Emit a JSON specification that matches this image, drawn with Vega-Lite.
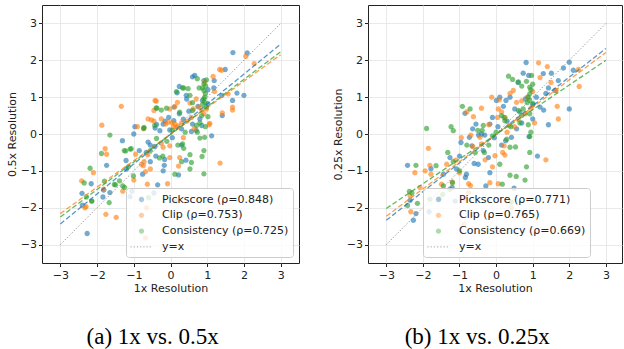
{
"$schema":"https://vega.github.io/schema/vega-lite/v6.json",
"background":"white",
"padding":{"left":5,"top":4,"right":0,"bottom":0},
"spacing":31,
"config":{
"font":"DejaVu Sans",
"view":{"stroke":"#222","strokeWidth":1},
"axis":{"labelFont":"DejaVu Sans","labelFontSize":11,"labelColor":"#222","titleFont":"DejaVu Sans","titleFontSize":11,"titleFontWeight":"normal","titleColor":"#222","tickColor":"#222","tickSize":3.5,"tickWidth":1,"domain":false,"grid":true,"gridColor":"#e3e3e3","gridWidth":0.8},
"axisX":{"labelPadding":3,"titlePadding":1.5},
"axisY":{"labelPadding":2,"titlePadding":3},
"legend":{"labelFont":"DejaVu Sans","labelFontSize":11,"labelColor":"#222","symbolSize":169,"symbolOffset":4,"symbolStrokeWidth":1,"symbolDash":[1.2,2],"labelOffset":13.5,"padding":4.5,"rowPadding":3.8,"fillColor":"rgba(255,255,255,0.8)","strokeColor":"#cccccc","cornerRadius":3,"title":null}
},
"datasets":{
"diag":[{"x":-3,"y":-3},{"x":3,"y":3}],
"f1":[{"m":"Pickscore","x":-3,"y":-2.44},{"m":"Pickscore","x":3,"y":2.44},{"m":"Clip","x":-3,"y":-2.16},{"m":"Clip","x":3,"y":2.15},{"m":"Consistency","x":-3,"y":-2.25},{"m":"Consistency","x":3,"y":2.23}],
"f2":[{"m":"Pickscore","x":-3,"y":-2.34},{"m":"Pickscore","x":3,"y":2.32},{"m":"Clip","x":-3,"y":-2.23},{"m":"Clip","x":3,"y":2.21},{"m":"Consistency","x":-3,"y":-2.02},{"m":"Consistency","x":3,"y":2.0}],
"p1":[
{"m":"Pickscore","x":1.70,"y":2.21},{"m":"Pickscore","x":2.09,"y":2.20},{"m":"Pickscore","x":1.49,"y":1.75},{"m":"Pickscore","x":1.19,"y":1.45},{"m":"Pickscore","x":0.66,"y":1.59},{"m":"Pickscore","x":0.60,"y":1.55},{"m":"Pickscore","x":0.24,"y":1.29},{"m":"Pickscore","x":1.02,"y":1.20},{"m":"Pickscore","x":1.81,"y":1.11},{"m":"Pickscore","x":2.00,"y":1.05},{"m":"Pickscore","x":1.69,"y":0.91},{"m":"Pickscore","x":1.41,"y":0.50},{"m":"Pickscore","x":1.02,"y":0.82},{"m":"Pickscore","x":0.44,"y":0.95},{"m":"Pickscore","x":0.10,"y":0.73},{"m":"Pickscore","x":0.80,"y":0.41},{"m":"Pickscore","x":0.85,"y":0.23},{"m":"Pickscore","x":0.60,"y":0.27},{"m":"Pickscore","x":0.30,"y":0.14},{"m":"Pickscore","x":0.09,"y":0.36},{"m":"Pickscore","x":-0.02,"y":0.11},{"m":"Pickscore","x":-0.20,"y":0.27},{"m":"Pickscore","x":-0.29,"y":0.09},{"m":"Pickscore","x":-0.42,"y":0.16},{"m":"Pickscore","x":-0.97,"y":0.20},{"m":"Pickscore","x":-1.00,"y":0.00},{"m":"Pickscore","x":-0.61,"y":-0.22},{"m":"Pickscore","x":-0.43,"y":-0.34},{"m":"Pickscore","x":-0.40,"y":-0.60},{"m":"Pickscore","x":-0.16,"y":-0.69},{"m":"Pickscore","x":-0.17,"y":-0.85},{"m":"Pickscore","x":-0.20,"y":-1.00},{"m":"Pickscore","x":0.22,"y":-1.11},{"m":"Pickscore","x":-0.35,"y":-1.38},{"m":"Pickscore","x":-0.76,"y":-1.09},{"m":"Pickscore","x":-1.31,"y":-0.18},{"m":"Pickscore","x":-1.74,"y":-0.85},{"m":"Pickscore","x":-1.20,"y":-0.95},{"m":"Pickscore","x":-1.21,"y":-0.72},{"m":"Pickscore","x":-2.16,"y":-1.35},{"m":"Pickscore","x":-2.41,"y":-1.61},{"m":"Pickscore","x":-2.27,"y":-2.70},{"m":"Pickscore","x":-1.84,"y":-1.71},{"m":"Pickscore","x":-2.40,"y":-1.93},{"m":"Pickscore","x":-1.65,"y":-1.59},{"m":"Pickscore","x":0.42,"y":-0.71},{"m":"Pickscore","x":1.12,"y":-0.05},{"m":"Pickscore","x":0.57,"y":0.07},{"m":"Pickscore","x":0.87,"y":0.91},{"m":"Pickscore","x":0.91,"y":1.45},{"m":"Pickscore","x":0.43,"y":1.05},{"m":"Pickscore","x":0.18,"y":1.12},{"m":"Pickscore","x":-0.05,"y":0.45},{"m":"Pickscore","x":-0.15,"y":0.35},{"m":"Pickscore","x":-0.38,"y":0.26},{"m":"Pickscore","x":0.24,"y":0.55},{"m":"Pickscore","x":0.50,"y":0.62},{"m":"Pickscore","x":1.18,"y":1.25},{"m":"Pickscore","x":0.70,"y":0.10},{"m":"Pickscore","x":-0.55,"y":-0.30},{"m":"Pickscore","x":-0.85,"y":-0.45},{"m":"Pickscore","x":-1.05,"y":-1.55},{"m":"Pickscore","x":-1.10,"y":-1.70},{"m":"Pickscore","x":-0.55,"y":-0.75},{"m":"Pickscore","x":0.05,"y":-0.10},{"m":"Pickscore","x":0.35,"y":0.40},{"m":"Pickscore","x":0.75,"y":0.75},{"m":"Pickscore","x":1.40,"y":1.05},{"m":"Pickscore","x":-0.66,"y":-0.50},{"m":"Pickscore","x":-1.82,"y":-1.52},{"m":"Pickscore","x":-0.45,"y":-1.60},{"m":"Pickscore","x":0.30,"y":-0.30},
{"m":"Clip","x":2.05,"y":2.11},{"m":"Clip","x":2.28,"y":1.91},{"m":"Clip","x":1.34,"y":1.75},{"m":"Clip","x":1.39,"y":1.73},{"m":"Clip","x":1.16,"y":1.56},{"m":"Clip","x":0.93,"y":1.41},{"m":"Clip","x":1.57,"y":1.09},{"m":"Clip","x":1.69,"y":0.73},{"m":"Clip","x":1.69,"y":0.65},{"m":"Clip","x":1.41,"y":0.57},{"m":"Clip","x":1.07,"y":0.29},{"m":"Clip","x":1.05,"y":0.25},{"m":"Clip","x":1.35,"y":-0.79},{"m":"Clip","x":0.98,"y":0.68},{"m":"Clip","x":0.77,"y":0.73},{"m":"Clip","x":0.53,"y":0.84},{"m":"Clip","x":0.12,"y":0.75},{"m":"Clip","x":-0.42,"y":0.91},{"m":"Clip","x":-0.45,"y":0.64},{"m":"Clip","x":-0.52,"y":0.38},{"m":"Clip","x":-0.25,"y":0.41},{"m":"Clip","x":-0.13,"y":0.27},{"m":"Clip","x":-0.06,"y":0.32},{"m":"Clip","x":0.04,"y":0.31},{"m":"Clip","x":0.12,"y":0.27},{"m":"Clip","x":0.16,"y":0.18},{"m":"Clip","x":-0.20,"y":-0.36},{"m":"Clip","x":-0.02,"y":-0.32},{"m":"Clip","x":-0.02,"y":-0.64},{"m":"Clip","x":0.25,"y":-0.64},{"m":"Clip","x":0.22,"y":-0.87},{"m":"Clip","x":-0.08,"y":-1.35},{"m":"Clip","x":-0.63,"y":-1.36},{"m":"Clip","x":-0.68,"y":-1.02},{"m":"Clip","x":-0.74,"y":-0.86},{"m":"Clip","x":-0.79,"y":-0.82},{"m":"Clip","x":-0.72,"y":-0.75},{"m":"Clip","x":-0.62,"y":-0.56},{"m":"Clip","x":-0.73,"y":0.15},{"m":"Clip","x":-1.34,"y":0.75},{"m":"Clip","x":-1.87,"y":0.24},{"m":"Clip","x":-1.78,"y":-0.40},{"m":"Clip","x":-1.74,"y":-0.55},{"m":"Clip","x":-2.10,"y":-1.05},{"m":"Clip","x":-2.42,"y":-1.27},{"m":"Clip","x":-2.33,"y":-2.00},{"m":"Clip","x":-1.76,"y":-2.18},{"m":"Clip","x":-1.48,"y":-2.26},{"m":"Clip","x":-0.68,"y":-2.82},{"m":"Clip","x":-0.65,"y":-2.00},{"m":"Clip","x":0.57,"y":0.45},{"m":"Clip","x":0.62,"y":0.68},{"m":"Clip","x":0.91,"y":0.55},{"m":"Clip","x":0.70,"y":0.95},{"m":"Clip","x":0.20,"y":0.22},{"m":"Clip","x":0.08,"y":0.20},{"m":"Clip","x":-0.90,"y":0.20},{"m":"Clip","x":-0.61,"y":0.41},{"m":"Clip","x":-0.45,"y":0.35},{"m":"Clip","x":0.19,"y":0.86},{"m":"Clip","x":-0.02,"y":0.68},{"m":"Clip","x":-0.39,"y":0.89},{"m":"Clip","x":0.45,"y":0.35},{"m":"Clip","x":0.85,"y":0.65},{"m":"Clip","x":-1.30,"y":-1.55},{"m":"Clip","x":-0.95,"y":-0.55},{"m":"Clip","x":-0.55,"y":-0.95},{"m":"Clip","x":-0.25,"y":-0.25},{"m":"Clip","x":-1.00,"y":-1.25},{"m":"Clip","x":0.35,"y":-0.10},{"m":"Clip","x":0.65,"y":0.15},{"m":"Clip","x":-2.30,"y":-1.97},{"m":"Clip","x":-1.82,"y":-1.50},{"m":"Clip","x":0.30,"y":0.30},{"m":"Clip","x":1.20,"y":1.15},
{"m":"Consistency","x":0.73,"y":1.50},{"m":"Consistency","x":0.98,"y":1.47},{"m":"Consistency","x":0.91,"y":1.36},{"m":"Consistency","x":0.78,"y":1.25},{"m":"Consistency","x":0.87,"y":1.25},{"m":"Consistency","x":0.16,"y":1.15},{"m":"Consistency","x":0.33,"y":1.25},{"m":"Consistency","x":0.53,"y":1.05},{"m":"Consistency","x":0.91,"y":1.18},{"m":"Consistency","x":0.91,"y":0.95},{"m":"Consistency","x":0.93,"y":0.86},{"m":"Consistency","x":0.98,"y":0.73},{"m":"Consistency","x":1.02,"y":0.47},{"m":"Consistency","x":0.60,"y":0.64},{"m":"Consistency","x":0.25,"y":0.59},{"m":"Consistency","x":-0.25,"y":0.65},{"m":"Consistency","x":-0.39,"y":0.71},{"m":"Consistency","x":-0.43,"y":0.23},{"m":"Consistency","x":-0.73,"y":0.15},{"m":"Consistency","x":-0.38,"y":-0.12},{"m":"Consistency","x":-0.21,"y":-0.60},{"m":"Consistency","x":0.33,"y":-0.27},{"m":"Consistency","x":0.36,"y":-0.39},{"m":"Consistency","x":0.71,"y":0.23},{"m":"Consistency","x":0.73,"y":0.05},{"m":"Consistency","x":0.80,"y":-0.11},{"m":"Consistency","x":0.93,"y":-0.09},{"m":"Consistency","x":0.91,"y":-0.45},{"m":"Consistency","x":0.86,"y":-0.61},{"m":"Consistency","x":0.53,"y":-0.56},{"m":"Consistency","x":0.57,"y":-0.77},{"m":"Consistency","x":0.53,"y":-0.95},{"m":"Consistency","x":0.30,"y":-0.75},{"m":"Consistency","x":0.12,"y":-1.09},{"m":"Consistency","x":0.91,"y":-1.08},{"m":"Consistency","x":0.16,"y":-1.82},{"m":"Consistency","x":-1.65,"y":-0.03},{"m":"Consistency","x":-1.88,"y":-0.53},{"m":"Consistency","x":-2.19,"y":-0.93},{"m":"Consistency","x":-2.35,"y":-1.33},{"m":"Consistency","x":-2.15,"y":-1.82},{"m":"Consistency","x":-1.80,"y":-1.28},{"m":"Consistency","x":-1.67,"y":-1.86},{"m":"Consistency","x":-1.53,"y":-1.37},{"m":"Consistency","x":-1.26,"y":-0.45},{"m":"Consistency","x":-1.10,"y":-0.41},{"m":"Consistency","x":-1.15,"y":-0.89},{"m":"Consistency","x":-1.30,"y":-1.41},{"m":"Consistency","x":-1.01,"y":-1.14},{"m":"Consistency","x":-0.60,"y":-1.73},{"m":"Consistency","x":-1.22,"y":-0.46},{"m":"Consistency","x":-1.07,"y":-0.40},{"m":"Consistency","x":-1.39,"y":-1.27},{"m":"Consistency","x":-1.50,"y":-1.38},{"m":"Consistency","x":-1.25,"y":-1.45},{"m":"Consistency","x":-2.29,"y":-1.71},{"m":"Consistency","x":-2.14,"y":-1.82},{"m":"Consistency","x":0.36,"y":1.25},{"m":"Consistency","x":0.48,"y":1.23},{"m":"Consistency","x":-0.11,"y":0.70},{"m":"Consistency","x":-0.37,"y":0.70},{"m":"Consistency","x":-0.72,"y":0.18},{"m":"Consistency","x":0.93,"y":1.00},{"m":"Consistency","x":0.95,"y":1.10},{"m":"Consistency","x":0.88,"y":0.80},{"m":"Consistency","x":0.85,"y":0.50},{"m":"Consistency","x":0.80,"y":0.30},{"m":"Consistency","x":0.95,"y":0.20},{"m":"Consistency","x":0.60,"y":0.85},{"m":"Consistency","x":0.05,"y":0.10},{"m":"Consistency","x":-0.10,"y":-0.20},{"m":"Consistency","x":-0.55,"y":-0.45},{"m":"Consistency","x":-0.30,"y":-0.65},{"m":"Consistency","x":0.20,"y":-0.30},{"m":"Consistency","x":0.40,"y":0.05},{"m":"Consistency","x":0.96,"y":1.30}
],
"p2":[
{"m":"Pickscore","x":0.82,"y":1.94},{"m":"Pickscore","x":2.00,"y":1.95},{"m":"Pickscore","x":2.11,"y":1.73},{"m":"Pickscore","x":1.84,"y":1.79},{"m":"Pickscore","x":1.51,"y":1.65},{"m":"Pickscore","x":1.29,"y":1.64},{"m":"Pickscore","x":0.89,"y":1.59},{"m":"Pickscore","x":0.74,"y":1.65},{"m":"Pickscore","x":1.70,"y":1.45},{"m":"Pickscore","x":1.61,"y":1.18},{"m":"Pickscore","x":1.43,"y":1.25},{"m":"Pickscore","x":1.36,"y":1.10},{"m":"Pickscore","x":1.20,"y":0.73},{"m":"Pickscore","x":1.30,"y":0.65},{"m":"Pickscore","x":2.00,"y":0.68},{"m":"Pickscore","x":1.43,"y":0.25},{"m":"Pickscore","x":1.13,"y":-0.60},{"m":"Pickscore","x":0.90,"y":-0.07},{"m":"Pickscore","x":1.00,"y":0.41},{"m":"Pickscore","x":1.00,"y":0.80},{"m":"Pickscore","x":0.38,"y":1.00},{"m":"Pickscore","x":0.27,"y":0.91},{"m":"Pickscore","x":0.10,"y":1.00},{"m":"Pickscore","x":0.01,"y":0.91},{"m":"Pickscore","x":0.20,"y":0.75},{"m":"Pickscore","x":-0.10,"y":0.45},{"m":"Pickscore","x":-0.17,"y":0.27},{"m":"Pickscore","x":0.51,"y":0.68},{"m":"Pickscore","x":0.56,"y":0.14},{"m":"Pickscore","x":0.42,"y":-0.09},{"m":"Pickscore","x":0.26,"y":-0.18},{"m":"Pickscore","x":-0.31,"y":-0.03},{"m":"Pickscore","x":-0.48,"y":-0.03},{"m":"Pickscore","x":-0.64,"y":0.14},{"m":"Pickscore","x":-0.55,"y":0.27},{"m":"Pickscore","x":-0.85,"y":0.56},{"m":"Pickscore","x":-0.73,"y":-0.09},{"m":"Pickscore","x":-0.66,"y":-0.32},{"m":"Pickscore","x":-0.96,"y":-0.23},{"m":"Pickscore","x":-1.26,"y":-0.64},{"m":"Pickscore","x":-1.08,"y":-0.95},{"m":"Pickscore","x":-0.81,"y":-1.09},{"m":"Pickscore","x":-0.84,"y":-1.18},{"m":"Pickscore","x":-0.49,"y":-0.82},{"m":"Pickscore","x":-0.21,"y":-0.64},{"m":"Pickscore","x":-0.17,"y":-1.05},{"m":"Pickscore","x":-0.28,"y":-1.41},{"m":"Pickscore","x":0.49,"y":-1.47},{"m":"Pickscore","x":-1.12,"y":-1.82},{"m":"Pickscore","x":-1.78,"y":-0.94},{"m":"Pickscore","x":-2.42,"y":-0.85},{"m":"Pickscore","x":-2.19,"y":-2.16},{"m":"Pickscore","x":-1.83,"y":-2.11},{"m":"Pickscore","x":-2.26,"y":-2.34},{"m":"Pickscore","x":-2.35,"y":-1.80},{"m":"Pickscore","x":-1.44,"y":-1.09},{"m":"Pickscore","x":-1.00,"y":-0.60},{"m":"Pickscore","x":0.05,"y":0.20},{"m":"Pickscore","x":0.30,"y":0.35},{"m":"Pickscore","x":0.65,"y":0.60},{"m":"Pickscore","x":0.80,"y":0.95},{"m":"Pickscore","x":-0.35,"y":-0.45},{"m":"Pickscore","x":-0.60,"y":-0.80},{"m":"Pickscore","x":0.15,"y":-0.30},{"m":"Pickscore","x":-1.20,"y":-1.45},{"m":"Pickscore","x":0.60,"y":1.40},{"m":"Pickscore","x":1.10,"y":1.00},{"m":"Pickscore","x":-0.05,"y":-0.10},{"m":"Pickscore","x":-0.40,"y":0.00},{"m":"Pickscore","x":0.70,"y":0.30},
{"m":"Clip","x":1.16,"y":1.93},{"m":"Clip","x":1.40,"y":1.83},{"m":"Clip","x":1.20,"y":1.53},{"m":"Clip","x":2.25,"y":1.75},{"m":"Clip","x":2.27,"y":1.29},{"m":"Clip","x":1.67,"y":0.75},{"m":"Clip","x":1.70,"y":0.41},{"m":"Clip","x":1.36,"y":-0.70},{"m":"Clip","x":1.64,"y":1.18},{"m":"Clip","x":1.50,"y":1.40},{"m":"Clip","x":0.47,"y":1.18},{"m":"Clip","x":0.38,"y":1.10},{"m":"Clip","x":0.56,"y":0.86},{"m":"Clip","x":0.70,"y":0.90},{"m":"Clip","x":-0.12,"y":1.00},{"m":"Clip","x":0.09,"y":0.93},{"m":"Clip","x":0.06,"y":0.68},{"m":"Clip","x":-0.40,"y":0.70},{"m":"Clip","x":-0.62,"y":0.47},{"m":"Clip","x":-0.80,"y":0.60},{"m":"Clip","x":0.04,"y":0.45},{"m":"Clip","x":0.25,"y":0.44},{"m":"Clip","x":0.36,"y":0.23},{"m":"Clip","x":-0.44,"y":-0.09},{"m":"Clip","x":-0.69,"y":-0.03},{"m":"Clip","x":-0.64,"y":-0.34},{"m":"Clip","x":-0.40,"y":-0.27},{"m":"Clip","x":0.22,"y":-0.32},{"m":"Clip","x":0.18,"y":-0.50},{"m":"Clip","x":0.24,"y":-0.57},{"m":"Clip","x":-0.03,"y":-0.59},{"m":"Clip","x":-0.10,"y":-0.89},{"m":"Clip","x":-0.17,"y":-1.32},{"m":"Clip","x":0.06,"y":-1.35},{"m":"Clip","x":-0.75,"y":-1.35},{"m":"Clip","x":-0.70,"y":-1.40},{"m":"Clip","x":-0.75,"y":-1.59},{"m":"Clip","x":-0.64,"y":-2.18},{"m":"Clip","x":-0.88,"y":-2.45},{"m":"Clip","x":-0.85,"y":-1.75},{"m":"Clip","x":-1.49,"y":-1.36},{"m":"Clip","x":-1.35,"y":-0.82},{"m":"Clip","x":-1.10,"y":-0.71},{"m":"Clip","x":-1.81,"y":-0.85},{"m":"Clip","x":-1.78,"y":-1.09},{"m":"Clip","x":-1.94,"y":-1.00},{"m":"Clip","x":-1.85,"y":-0.39},{"m":"Clip","x":-2.22,"y":-1.05},{"m":"Clip","x":-2.08,"y":-1.45},{"m":"Clip","x":-2.35,"y":-1.68},{"m":"Clip","x":-2.33,"y":-2.11},{"m":"Clip","x":0.42,"y":-2.00},{"m":"Clip","x":-1.55,"y":-1.75},{"m":"Clip","x":0.95,"y":0.70},{"m":"Clip","x":0.80,"y":0.55},{"m":"Clip","x":0.60,"y":0.40},{"m":"Clip","x":0.50,"y":0.20},{"m":"Clip","x":1.05,"y":0.30},{"m":"Clip","x":0.30,"y":0.05},{"m":"Clip","x":-0.20,"y":0.25},{"m":"Clip","x":-0.95,"y":-0.10},{"m":"Clip","x":-0.30,"y":-0.70},{"m":"Clip","x":1.00,"y":1.15},{"m":"Clip","x":0.85,"y":1.00},{"m":"Clip","x":-1.20,"y":-1.30},{"m":"Clip","x":-1.00,"y":-1.05},{"m":"Clip","x":0.15,"y":0.60},
{"m":"Consistency","x":0.34,"y":1.57},{"m":"Consistency","x":0.45,"y":1.48},{"m":"Consistency","x":0.61,"y":1.41},{"m":"Consistency","x":0.83,"y":1.43},{"m":"Consistency","x":0.92,"y":1.27},{"m":"Consistency","x":0.97,"y":1.59},{"m":"Consistency","x":0.92,"y":1.09},{"m":"Consistency","x":0.88,"y":1.00},{"m":"Consistency","x":0.92,"y":0.91},{"m":"Consistency","x":1.01,"y":0.82},{"m":"Consistency","x":0.74,"y":0.68},{"m":"Consistency","x":0.61,"y":0.64},{"m":"Consistency","x":0.92,"y":0.55},{"m":"Consistency","x":0.88,"y":0.25},{"m":"Consistency","x":0.15,"y":0.50},{"m":"Consistency","x":0.22,"y":0.45},{"m":"Consistency","x":0.24,"y":0.36},{"m":"Consistency","x":-0.92,"y":0.75},{"m":"Consistency","x":-0.71,"y":0.68},{"m":"Consistency","x":-1.23,"y":0.20},{"m":"Consistency","x":-1.17,"y":0.09},{"m":"Consistency","x":-1.90,"y":0.15},{"m":"Consistency","x":-0.35,"y":0.23},{"m":"Consistency","x":-0.38,"y":0.10},{"m":"Consistency","x":0.00,"y":0.05},{"m":"Consistency","x":0.29,"y":-0.14},{"m":"Consistency","x":0.38,"y":-0.36},{"m":"Consistency","x":0.53,"y":-0.35},{"m":"Consistency","x":0.92,"y":-0.07},{"m":"Consistency","x":0.92,"y":-0.50},{"m":"Consistency","x":0.83,"y":-0.89},{"m":"Consistency","x":0.79,"y":-1.25},{"m":"Consistency","x":0.38,"y":-1.12},{"m":"Consistency","x":0.55,"y":-1.15},{"m":"Consistency","x":0.17,"y":-1.36},{"m":"Consistency","x":0.10,"y":-0.82},{"m":"Consistency","x":-0.32,"y":-0.50},{"m":"Consistency","x":-0.57,"y":-0.50},{"m":"Consistency","x":-1.32,"y":-0.50},{"m":"Consistency","x":-1.17,"y":-0.75},{"m":"Consistency","x":-1.44,"y":-1.41},{"m":"Consistency","x":-1.19,"y":-1.32},{"m":"Consistency","x":-1.64,"y":-0.86},{"m":"Consistency","x":-2.19,"y":-0.85},{"m":"Consistency","x":-2.37,"y":-1.56},{"m":"Consistency","x":-2.42,"y":-1.94},{"m":"Consistency","x":-2.15,"y":-1.88},{"m":"Consistency","x":-1.81,"y":-1.77},{"m":"Consistency","x":-1.46,"y":-1.64},{"m":"Consistency","x":-1.26,"y":-1.50},{"m":"Consistency","x":0.41,"y":-1.85},{"m":"Consistency","x":0.95,"y":1.20},{"m":"Consistency","x":1.00,"y":1.35},{"m":"Consistency","x":0.85,"y":0.85},{"m":"Consistency","x":0.70,"y":0.50},{"m":"Consistency","x":0.65,"y":0.30},{"m":"Consistency","x":0.40,"y":0.20},{"m":"Consistency","x":-0.10,"y":-0.05},{"m":"Consistency","x":-0.50,"y":0.10},{"m":"Consistency","x":-0.80,"y":-0.30},{"m":"Consistency","x":-0.20,"y":-0.30},{"m":"Consistency","x":0.95,"y":0.05},{"m":"Consistency","x":0.70,"y":1.30},{"m":"Consistency","x":-1.00,"y":-1.00},{"m":"Consistency","x":-2.30,"y":-1.60}
]
},
"resolve":{"scale":{"x":"independent","y":"independent","fill":"independent","stroke":"independent","shape":"independent","color":"independent"},"legend":{"fill":"independent","shape":"independent","stroke":"independent"}},
"hconcat":[
{
"width":257,"height":258,
"title":{"text":"(a) 1x vs. 0.5x","orient":"bottom","frame":"bounds","anchor":"middle","baseline":"alphabetic","offset":51,"font":"Liberation Serif","fontSize":23,"fontWeight":"normal","color":"black"},
"encoding":{
"x":{"field":"x","type":"quantitative","scale":{"domain":[-3.5,3.5],"nice":false,"zero":false},"axis":{"values":[-3,-2,-1,0,1,2,3],"labelExpr":"replace(format(datum.value,'d'),'-','−')","title":"1x Resolution"}},
"y":{"field":"y","type":"quantitative","scale":{"domain":[-3.5,3.5],"nice":false,"zero":false},"axis":{"values":[-3,-2,-1,0,1,2,3],"labelExpr":"replace(format(datum.value,'d'),'-','−')","title":"0.5x Resolution"}}
},
"layer":[
{"data":{"name":"p1"},"mark":{"type":"point","filled":true,"size":169,"opacity":0.62},
"encoding":{
"fill":{"field":"m","type":"nominal","scale":{"domain":["Pickscore","Clip","Consistency","y=x"],"range":["#1f77b4","#ff7f0e","#2ca02c","#8c8c8c"]},
"legend":{"orient":"none","legendX":84,"legendY":183,"labelExpr":"datum.value == 'Pickscore' ? 'Pickscore (ρ=0.848)' : datum.value == 'Clip' ? 'Clip (ρ=0.753)' : datum.value == 'Consistency' ? 'Consistency (ρ=0.725)' : 'y=x'"}},
"shape":{"field":"m","type":"nominal","scale":{"domain":["Pickscore","Clip","Consistency","y=x"],"range":["M0.41,0A0.41,0.41,0,1,1,-0.41,0A0.41,0.41,0,1,1,0.41,0Z","M0.41,0A0.41,0.41,0,1,1,-0.41,0A0.41,0.41,0,1,1,0.41,0Z","M0.41,0A0.41,0.41,0,1,1,-0.41,0A0.41,0.41,0,1,1,0.41,0Z","M-1.69,0L1.69,0"]},
"legend":{"orient":"none","legendX":84,"legendY":183,"labelExpr":"datum.value == 'Pickscore' ? 'Pickscore (ρ=0.848)' : datum.value == 'Clip' ? 'Clip (ρ=0.753)' : datum.value == 'Consistency' ? 'Consistency (ρ=0.725)' : 'y=x'"}},
"stroke":{"field":"m","type":"nominal","scale":{"domain":["Pickscore","Clip","Consistency","y=x"],"range":["transparent","transparent","transparent","#6e6e6e"]},
"legend":{"orient":"none","legendX":84,"legendY":183,"labelExpr":"datum.value == 'Pickscore' ? 'Pickscore (ρ=0.848)' : datum.value == 'Clip' ? 'Clip (ρ=0.753)' : datum.value == 'Consistency' ? 'Consistency (ρ=0.725)' : 'y=x'"}}
}},
{"data":{"name":"diag"},"mark":{"type":"line","stroke":"#8c8c8c","strokeDash":[1.2,2],"strokeWidth":1},"encoding":{}},
{"data":{"name":"f1"},"mark":{"type":"line","strokeDash":[5,2.5],"strokeWidth":1.3,"opacity":0.75},
"encoding":{"color":{"field":"m","type":"nominal","scale":{"domain":["Pickscore","Clip","Consistency"],"range":["#1f77b4","#ff7f0e","#2ca02c"]},"legend":null}}}
]
},
{
"width":254,"height":258,
"title":{"text":"(b) 1x vs. 0.25x","orient":"bottom","frame":"bounds","anchor":"middle","baseline":"alphabetic","offset":51,"font":"Liberation Serif","fontSize":23,"fontWeight":"normal","color":"black"},
"encoding":{
"x":{"field":"x","type":"quantitative","scale":{"domain":[-3.5,3.44],"nice":false,"zero":false},"axis":{"values":[-3,-2,-1,0,1,2,3],"labelExpr":"replace(format(datum.value,'d'),'-','−')","title":"1x Resolution"}},
"y":{"field":"y","type":"quantitative","scale":{"domain":[-3.5,3.5],"nice":false,"zero":false},"axis":{"values":[-3,-2,-1,0,1,2,3],"labelExpr":"replace(format(datum.value,'d'),'-','−')","title":"0.25x Resolution"}}
},
"layer":[
{"data":{"name":"p2"},"mark":{"type":"point","filled":true,"size":169,"opacity":0.62},
"encoding":{
"fill":{"field":"m","type":"nominal","scale":{"domain":["Pickscore","Clip","Consistency","y=x"],"range":["#1f77b4","#ff7f0e","#2ca02c","#8c8c8c"]},
"legend":{"orient":"none","legendX":55,"legendY":183,"labelExpr":"datum.value == 'Pickscore' ? 'Pickscore (ρ=0.771)' : datum.value == 'Clip' ? 'Clip (ρ=0.765)' : datum.value == 'Consistency' ? 'Consistency (ρ=0.669)' : 'y=x'"}},
"shape":{"field":"m","type":"nominal","scale":{"domain":["Pickscore","Clip","Consistency","y=x"],"range":["M0.41,0A0.41,0.41,0,1,1,-0.41,0A0.41,0.41,0,1,1,0.41,0Z","M0.41,0A0.41,0.41,0,1,1,-0.41,0A0.41,0.41,0,1,1,0.41,0Z","M0.41,0A0.41,0.41,0,1,1,-0.41,0A0.41,0.41,0,1,1,0.41,0Z","M-1.69,0L1.69,0"]},
"legend":{"orient":"none","legendX":55,"legendY":183,"labelExpr":"datum.value == 'Pickscore' ? 'Pickscore (ρ=0.771)' : datum.value == 'Clip' ? 'Clip (ρ=0.765)' : datum.value == 'Consistency' ? 'Consistency (ρ=0.669)' : 'y=x'"}},
"stroke":{"field":"m","type":"nominal","scale":{"domain":["Pickscore","Clip","Consistency","y=x"],"range":["transparent","transparent","transparent","#6e6e6e"]},
"legend":{"orient":"none","legendX":55,"legendY":183,"labelExpr":"datum.value == 'Pickscore' ? 'Pickscore (ρ=0.771)' : datum.value == 'Clip' ? 'Clip (ρ=0.765)' : datum.value == 'Consistency' ? 'Consistency (ρ=0.669)' : 'y=x'"}}
}},
{"data":{"name":"diag"},"mark":{"type":"line","stroke":"#8c8c8c","strokeDash":[1.2,2],"strokeWidth":1},"encoding":{}},
{"data":{"name":"f2"},"mark":{"type":"line","strokeDash":[5,2.5],"strokeWidth":1.3,"opacity":0.75},
"encoding":{"color":{"field":"m","type":"nominal","scale":{"domain":["Pickscore","Clip","Consistency"],"range":["#1f77b4","#ff7f0e","#2ca02c"]},"legend":null}}}
]
}
]
}
